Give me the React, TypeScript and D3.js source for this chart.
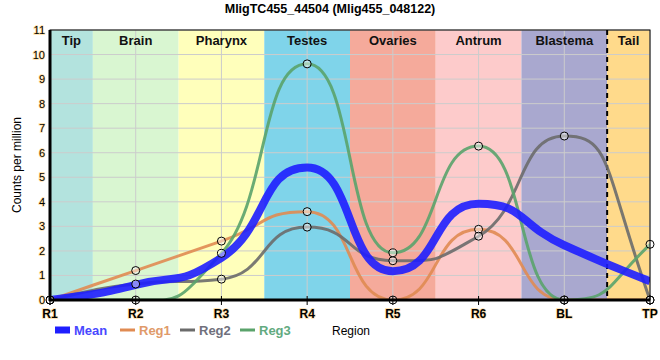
import React from 'react';
import * as d3 from 'd3';

// x categories (sample positions along the worm)
const samples = ['R1', 'R2', 'R3', 'R4', 'R5', 'R6', 'BL', 'TP'];

// body regions shown as coloured bands, [start, end] in sample index units
const regions = ['Tip', 'Brain', 'Pharynx', 'Testes', 'Ovaries', 'Antrum', 'Blastema', 'Tail'];
const regionStart = [0, 0.5, 1.5, 2.5, 3.5, 4.5, 5.5, 6.5];
const regionEnd = [0.5, 1.5, 2.5, 3.5, 4.5, 5.5, 6.5, 7];
const regionColors = ['#b3e3de', '#d9f6d1', '#ffffbb', '#7fd4ea', '#f5aa9b', '#fdcbcb', '#a9a8cf', '#ffda8b'];

// counts per million
const reg1 = [0, 1.2, 2.4, 3.6, 0, 2.88, 0, 0];
const reg2 = [0, 0.65, 0.85, 2.97, 1.6, 2.6, 6.68, 0];
const reg3 = [0, 0, 1.9, 9.62, 1.92, 6.27, 0, 2.27];
const mean = [0, 0.62, 1.72, 5.4, 1.17, 3.92, 2.23, 0.76];

const yTicks = [0, 1, 2, 3, 4, 5, 6, 7, 8, 9, 10, 11];

const W = 660, H = 360;
const margin = {left: 50, right: 10, top: 30, bottom: 60};

// monotone tangents (same as d3.curveMonotoneX) but with longer handles,
// which gives the flatter shoulders seen in the original
function smoothPath(pts: [number, number][], k: number) {
  const n = pts.length;
  const sign = (v: number) => (v < 0 ? -1 : 1);
  const t: number[] = new Array(n).fill(0);
  for (let i = 1; i < n - 1; i++) {
    const h0 = pts[i][0] - pts[i - 1][0], h1 = pts[i + 1][0] - pts[i][0];
    const s0 = (pts[i][1] - pts[i - 1][1]) / h0, s1 = (pts[i + 1][1] - pts[i][1]) / h1;
    const p = (s0 * h1 + s1 * h0) / (h0 + h1);
    t[i] = (sign(s0) + sign(s1)) * Math.min(Math.abs(s0), Math.abs(s1), 0.5 * Math.abs(p)) || 0;
  }
  const hA = pts[1][0] - pts[0][0];
  t[0] = (3 * (pts[1][1] - pts[0][1]) / hA - t[1]) / 2;
  const hB = pts[n - 1][0] - pts[n - 2][0];
  t[n - 1] = (3 * (pts[n - 1][1] - pts[n - 2][1]) / hB - t[n - 2]) / 2;

  const path = d3.path();
  path.moveTo(pts[0][0], pts[0][1]);
  for (let i = 0; i < n - 1; i++) {
    const [x0, y0] = pts[i];
    const [x1, y1] = pts[i + 1];
    const dx = x1 - x0;
    path.bezierCurveTo(x0 + k * dx, y0 + k * dx * t[i], x1 - k * dx, y1 - k * dx * t[i + 1], x1, y1);
  }
  return path.toString();
}

export default function App() {
  const width = W - margin.left - margin.right;
  const height = H - margin.top - margin.bottom;

  const x = d3.scaleLinear().domain([0, samples.length - 1]).range([margin.left, margin.left + width]);
  const y = d3.scaleLinear().domain([0, 11]).range([margin.top + height, margin.top]);

  const series = [
    {name: 'Reg1', data: reg1, color: '#e08b52', w: 3},
    {name: 'Reg2', data: reg2, color: '#6b6b6b', w: 3},
    {name: 'Reg3', data: reg3, color: '#5aa36b', w: 3},
  ];

  const mk = (d: number[]) => smoothPath(d.map((v, i) => [x(i), y(v)] as [number, number]), 0.55);

  const font = 'Arial, "Liberation Sans", sans-serif';
  const halo = {paintOrder: 'stroke', stroke: '#ffe0a8', strokeWidth: 1.5} as React.CSSProperties;

  const legend = [
    {name: 'Mean', color: '#1e1eff', text: '#4848ff', w: 7, x: 55},
    {name: 'Reg1', color: '#e08b52', text: '#e09a6a', w: 3, x: 120},
    {name: 'Reg2', color: '#6b6b6b', text: '#70707c', w: 3, x: 180},
    {name: 'Reg3', color: '#5aa36b', text: '#62aa80', w: 3, x: 240},
  ];

  return (
    <svg width={W} height={H} style={{position: 'absolute', left: 0, top: 0}} fontFamily={font}>
      <rect width={W} height={H} fill="#fff" />
      <defs>
        <clipPath id="plot">
          <rect x={margin.left} y={margin.top} width={width} height={height} />
        </clipPath>
      </defs>

      <text x={330} y={13} textAnchor="middle" fontSize={12.5} fontWeight="bold">
        MligTC455_44504 (Mlig455_048122)
      </text>

      {regions.map((r, i) => (
        <g key={r}>
          <rect x={x(regionStart[i])} y={margin.top} width={x(regionEnd[i]) - x(regionStart[i])}
            height={height} fill={regionColors[i]} />
        </g>
      ))}

      {yTicks.map(v => (
        <line key={'gy' + v} x1={margin.left} x2={margin.left + width} y1={y(v)} y2={y(v)} stroke="#cccccc" strokeWidth={1} />
      ))}
      {samples.map((s, i) => (
        <line key={'gx' + s} x1={x(i)} x2={x(i)} y1={margin.top} y2={margin.top + height} stroke="#cccccc" strokeWidth={1} />
      ))}

      {regions.map((r, i) => (
        <text key={'rl' + r} x={(x(regionStart[i]) + x(regionEnd[i])) / 2} y={margin.top + 15}
          textAnchor="middle" fontSize={13} fontWeight="bold" fill="#111">{r}</text>
      ))}

      <line x1={x(6.5)} x2={x(6.5)} y1={margin.top} y2={margin.top + height} stroke="#000" strokeWidth={2} strokeDasharray="5,4" />

      <g clipPath="url(#plot)">
        {series.map(s => (
          <path key={s.name} d={mk(s.data)} fill="none" stroke={s.color} strokeWidth={s.w} strokeOpacity={0.9} />
        ))}
        <path d={mk(mean)} fill="none" stroke="#1e1eff" strokeWidth={8} strokeOpacity={0.9} />
      </g>

      {series.map(s => s.data.map((v, i) => (
        <circle key={s.name + i} cx={x(i)} cy={y(v)} r={4} fill="#ffffff" fillOpacity={0.45} stroke="#000" strokeWidth={1} />
      )))}

      <rect x={margin.left} y={margin.top} width={width} height={height} fill="none" stroke="#000" strokeWidth={1} />
      <line x1={margin.left} x2={margin.left} y1={margin.top} y2={margin.top + height + 1} stroke="#000" strokeWidth={3} />
      <line x1={margin.left - 1} x2={margin.left + width} y1={margin.top + height} y2={margin.top + height} stroke="#000" strokeWidth={3} />

      {yTicks.map(v => (
        <text key={'yt' + v} x={margin.left - 5} y={y(v) + 4} textAnchor="end" fontSize={11} style={halo}>{v}</text>
      ))}
      {samples.map((s, i) => (
        <g key={'xt' + s}>
          <line x1={x(i)} x2={x(i)} y1={y(0) - 4} y2={y(0) + 5} stroke="#000" strokeWidth={1} />
          <text x={x(i)} y={y(0) + 18} textAnchor="middle" fontSize={12} fontWeight="bold" style={halo}>{s}</text>
        </g>
      ))}

      <text transform={`translate(21,${margin.top + height / 2}) rotate(-90)`} textAnchor="middle" fontSize={12}>
        Counts per million
      </text>

      {legend.map(l => (
        <g key={'lg' + l.name}>
          <line x1={l.x} x2={l.x + 15} y1={330} y2={330} stroke={l.color} strokeWidth={l.w} />
          <text x={l.x + 19} y={335} fontSize={13} fontWeight="bold" fill={l.text}>{l.name}</text>
        </g>
      ))}
      <text x={332} y={335} fontSize={12}>Region</text>
    </svg>
  );
}
